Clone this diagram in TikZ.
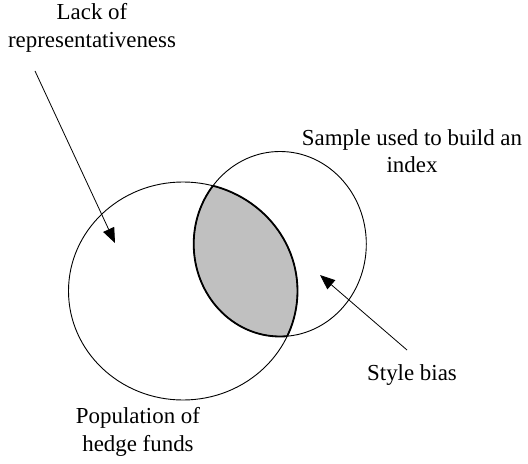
\documentclass[tikz,border=0pt]{standalone}
\usepackage{fontspec}
\setmainfont{Liberation Serif}
\usetikzlibrary{shapes.geometric,arrows.meta}
\definecolor{lensgray}{HTML}{C0C0C0}
\tikzset{
  setshape/.style={draw=black, line width=0.9bp, ellipse, inner sep=0pt},
  lbl/.style={font=\fontsize{22.9bp}{27.5bp}\selectfont, align=center, inner sep=0pt},
  ptr/.style={draw=black, line width=0.8bp, -{Triangle[length=15bp,width=12bp]}}
}
\begin{document}
\begin{tikzpicture}[x=1bp,y=-1bp]
\useasboundingbox (0,0) rectangle (528,464);
% lens fill
\begin{scope}
  \clip (183,291) ellipse [x radius=114.5, y radius=109];
  \fill[lensgray] (280,244) ellipse [x radius=86.3, y radius=92.5];
  \draw[line width=1.8bp] (280,244) ellipse [x radius=86.3, y radius=92.5];
\end{scope}
\begin{scope}
  \clip (280,244) ellipse [x radius=86.3, y radius=92.5];
  \draw[line width=1.8bp] (183,291) ellipse [x radius=114.5, y radius=109];
\end{scope}
\node[setshape, minimum width=229bp, minimum height=218bp] (pop) at (183,291) {};
\node[setshape, minimum width=172.6bp, minimum height=185bp] (samp) at (280,244) {};
% labels
\node[lbl] (lack) at (92,28) {Lack of\\representativeness};
\node[lbl] (sample) at (412,151) {Sample used to build an\\index};
\node[lbl] (style) at (412,375) {Style bias};
\node[lbl] (popl) at (138,432) {Population of\\hedge funds};
% arrows
\coordinate (lackstart) at (35,71);
\coordinate (lacktip) at (115,243);
\coordinate (stylestart) at (407,350);
\coordinate (styletip) at (320,275);
\draw[ptr] (lackstart) -- (lacktip);
\draw[ptr] (stylestart) -- (styletip);
\end{tikzpicture}
\end{document}
